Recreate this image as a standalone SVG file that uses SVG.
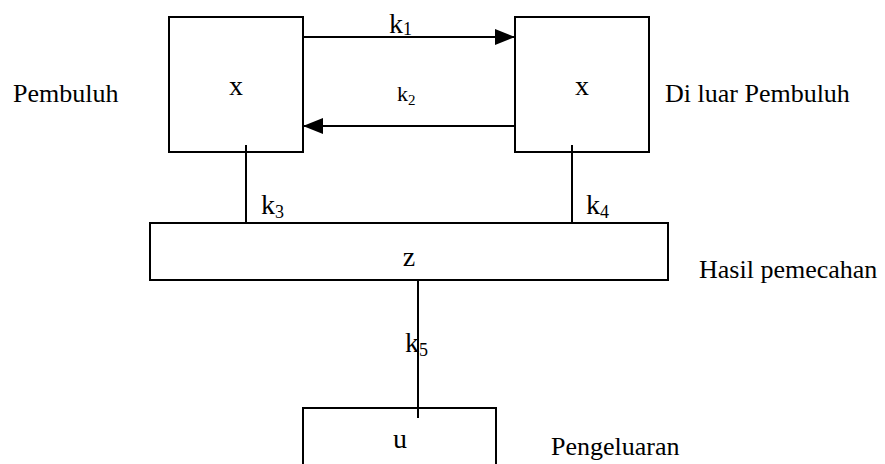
<svg xmlns="http://www.w3.org/2000/svg" width="885" height="464" viewBox="0 0 885 464">
  <style>
    .box { fill: #fff; stroke: #000; stroke-width: 2; }
    .wire { fill: none; stroke: #000; stroke-width: 2; }
    text { font-family: "Liberation Serif", "Times New Roman", serif; fill: #000; }
    .lbl { font-size: 26px; }
    .sym { font-size: 28px; }
    .k { font-size: 28px; }
    .ks { font-size: 18px; }
    .k-small { font-size: 22px; }
    .ks-small { font-size: 15px; }
  </style>
  <defs>
    <marker id="arrow" viewBox="0 0 20 16" refX="20" refY="8" markerWidth="20" markerHeight="16" markerUnits="userSpaceOnUse" orient="auto">
      <path d="M0,0 L20,8 L0,16 Z" fill="#000"/>
    </marker>
  </defs>

  <rect width="885" height="464" fill="#fff"/>

  <!-- compartments -->
  <g id="node-vessel">
    <rect class="box" x="169" y="17" width="134" height="135"/>
    <text class="sym" x="236" y="95" text-anchor="middle">x</text>
  </g>
  <g id="node-outside">
    <rect class="box" x="515" y="17" width="134" height="135"/>
    <text class="sym" x="582" y="95" text-anchor="middle">x</text>
  </g>
  <g id="node-breakdown">
    <rect class="box" x="150" y="223" width="518" height="57"/>
    <text class="sym" x="409" y="266" text-anchor="middle">z</text>
  </g>
  <g id="node-excretion">
    <rect class="box" x="303" y="408" width="193" height="70"/>
    <text class="sym" x="400" y="448" text-anchor="middle">u</text>
  </g>

  <!-- transfer paths -->
  <g id="connectors">
    <line class="wire" x1="303" y1="37" x2="515" y2="37" marker-end="url(#arrow)"/>
    <line class="wire" x1="515" y1="126" x2="303" y2="126" marker-end="url(#arrow)"/>
    <line class="wire" x1="246" y1="145" x2="246" y2="223"/>
    <line class="wire" x1="572" y1="145" x2="572" y2="223"/>
    <line class="wire" x1="418" y1="280" x2="418" y2="418"/>
  </g>

  <!-- rate constants -->
  <g id="rates">
    <text class="k" x="389" y="33">k<tspan class="ks" dy="2">1</tspan></text>
    <text class="k-small" x="397" y="101">k<tspan class="ks-small" dy="4">2</tspan></text>
    <text class="k" x="261" y="214">k<tspan class="ks" dy="4">3</tspan></text>
    <text class="k" x="586" y="214">k<tspan class="ks" dy="4">4</tspan></text>
    <text class="k" x="405" y="352">k<tspan class="ks" dy="4">5</tspan></text>
  </g>

  <!-- compartment names -->
  <g id="names">
    <text class="lbl" x="13" y="102">Pembuluh</text>
    <text class="lbl" x="665" y="102">Di luar Pembuluh</text>
    <text class="lbl" x="699" y="278">Hasil pemecahan</text>
    <text class="lbl" x="551" y="455">Pengeluaran</text>
  </g>
</svg>
